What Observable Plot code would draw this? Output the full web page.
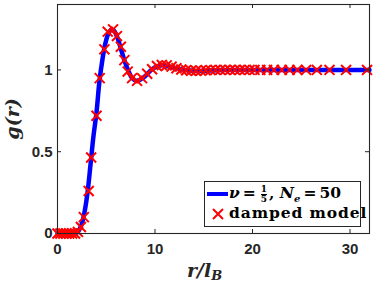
<!DOCTYPE html>
<html><head><meta charset="utf-8">
<script src="https://cdn.jsdelivr.net/npm/d3@7"></script>
<script src="https://cdn.jsdelivr.net/npm/@observablehq/plot@0.6"></script>
<style>
body{margin:0;background:#fff;}
#wrap{position:relative;width:374px;height:285px;overflow:hidden;}
.lab{position:absolute;font-family:"DejaVu Serif",serif;font-weight:bold;font-style:italic;color:#262626;white-space:nowrap;}
#legend{position:absolute;left:204px;top:181px;width:157px;height:46px;border:1px solid #262626;background:#fff;box-sizing:border-box;font-family:"DejaVu Serif",serif;font-weight:bold;color:#000;font-size:15.5px;}
.row{position:absolute;left:0;white-space:nowrap;}
.eq{margin:0 3px;}
.frac{display:inline-flex;flex-direction:column;vertical-align:middle;font-size:9px;line-height:9px;text-align:center;margin:0 2px;}
.frac span:first-child{border-bottom:1px solid #000;}
</style></head>
<body><div id="wrap"></div>
<script>
// simulated g(r) (blue line)
const lineR = [0, 0.5, 1, 1.5, 2, 2.2, 2.5, 2.8, 3.1, 3.4, 3.7, 4.0, 4.3, 4.6, 4.9, 5.2, 5.5, 5.8, 6.1, 6.4, 6.7, 7.0, 7.3, 7.6, 8.0, 8.4, 8.8, 9.2, 9.7, 10.2, 10.9, 11.6, 12.6, 13.5, 14.5, 15.5, 17, 19, 22, 26, 29, 32];
const lineG = [0, 0, 0, 0, 0.005, 0.02, 0.06, 0.14, 0.26, 0.43, 0.6, 0.74, 0.93, 1.06, 1.16, 1.22, 1.245, 1.24, 1.205, 1.15, 1.09, 1.035, 0.99, 0.955, 0.935, 0.937, 0.953, 0.975, 1.004, 1.022, 1.028, 1.018, 1.004, 0.996, 0.994, 0.997, 1.0, 1.0, 1.0, 1.0, 1.0, 1.0];
// damped model (red crosses)
const modelR = [0, 0.3, 0.6, 0.9, 1.2, 1.5, 1.8, 2.1, 2.4, 2.7, 3.2, 3.45, 4.0, 4.33, 4.81, 5.15, 5.7, 6.1, 6.5, 6.86, 7.2, 7.65, 8.16, 8.67, 9.2, 9.7, 10.2, 10.7, 11.2, 11.7, 12.2, 12.7, 13.2, 13.7, 14.2, 14.7, 15.2, 15.7, 16.2, 16.7, 17.2, 17.7, 18.2, 18.7, 19.2, 19.7, 20.2, 20.8, 21.5, 22.2, 23.0, 23.8, 24.6, 25.5, 26.6, 27.9, 29.6, 31.75];
const modelG = [0, 0, 0, 0, 0, 0, 0, 0.01, 0.04, 0.10, 0.26, 0.465, 0.72, 0.95, 1.126, 1.234, 1.248, 1.207, 1.142, 1.06, 0.99, 0.95, 0.933, 0.95, 0.977, 1.004, 1.024, 1.03, 1.028, 1.02, 1.01, 1.003, 0.998, 0.995, 0.995, 0.996, 0.998, 0.999, 1.0, 1.0, 1.0, 1.0, 1.0, 1.0, 1.0, 1.0, 1.0, 1.0, 1.0, 1.0, 1.0, 1.0, 1.0, 1.0, 1.0, 1.0, 1.0, 1.0];
const xTicks = [0, 10, 20, 30];
const yTicks = [0, 0.5, 1];
const yTickLabels = ["0", "0.5", "1"];

const lineData = lineR.map((r, i) => ({r, g: lineG[i]}));
const modelData = modelR.map((r, i) => ({r, g: modelG[i]}));

const W = 374, H = 285, mL = 57, mR = 5, mT = 4, mB = 52;
const pw = W - mL - mR, ph = H - mT - mB, tk = 4;
const axisColor = "#262626";

const plot = Plot.plot({
  width: W, height: H,
  marginLeft: mL, marginRight: mR, marginTop: mT, marginBottom: mB,
  style: {background: "#fff", fontFamily: "'Liberation Sans', Arial, sans-serif"},
  x: {domain: [0, 32]},
  y: {domain: [0, 1.4]},
  marks: [
    Plot.line(lineData, {x: "r", y: "g", stroke: "#0000ff", strokeWidth: 4.5, curve: "catmull-rom"}),
    Plot.dot(modelData, {x: "r", y: "g", symbol: "times", r: 4.6, stroke: "#ff0000", strokeWidth: 2}),
    Plot.tickX(xTicks, {x: d => d, insetTop: ph - tk, stroke: axisColor}),
    Plot.tickX(xTicks, {x: d => d, insetBottom: ph - tk, stroke: axisColor}),
    Plot.tickY(yTicks, {y: d => d, insetRight: pw - tk, stroke: axisColor}),
    Plot.tickY(yTicks, {y: d => d, insetLeft: pw - tk, stroke: axisColor}),
    Plot.axisX(xTicks, {tickSize: 0, tickPadding: 10, fontSize: 15, fontWeight: "bold", fill: axisColor, label: null, tickFormat: d => String(d)}),
    Plot.axisY(yTicks, {tickSize: 0, tickPadding: 5, fontSize: 15, fontWeight: "bold", fill: axisColor, label: null, tickFormat: (d, i) => yTickLabels[i]}),
    Plot.frame({stroke: axisColor, strokeWidth: 1.1})
  ]
});
const wrap = document.getElementById("wrap");
wrap.appendChild(plot);

const yl = document.createElement("div");
yl.className = "lab";
yl.style.cssText = "left:-10px;top:108px;font-size:19px;transform:rotate(-90deg);transform-origin:center;width:44px;text-align:center;";
yl.innerHTML = "g(r)";
wrap.appendChild(yl);

const xl = document.createElement("div");
xl.className = "lab";
xl.style.cssText = "left:187px;top:259px;font-size:19px;";
xl.innerHTML = "r/l<sub style='font-size:13px;vertical-align:-3px'>B</sub>";
wrap.appendChild(xl);

const lg = document.createElement("div");
lg.id = "legend";
lg.innerHTML = `
<div class="row" style="top:1px;left:2px;"><svg width="22" height="10" style="vertical-align:middle"><line x1="0" y1="5" x2="21" y2="5" stroke="#0000ff" stroke-width="4"/></svg><i>ν</i><span class="eq">=</span><span class="frac"><span>1</span><span>5</span></span>, <i>N</i><sub style="font-size:10px"><i>e</i></sub><span class="eq">=</span>50</div>
<div class="row" style="top:21px;left:2px;letter-spacing:0.9px;"><svg width="22" height="14" style="vertical-align:middle"><path d="M6,2L16,12M16,2L6,12" stroke="#ff0000" stroke-width="2"/></svg>damped model</div>`;
wrap.appendChild(lg);
</script></body></html>
